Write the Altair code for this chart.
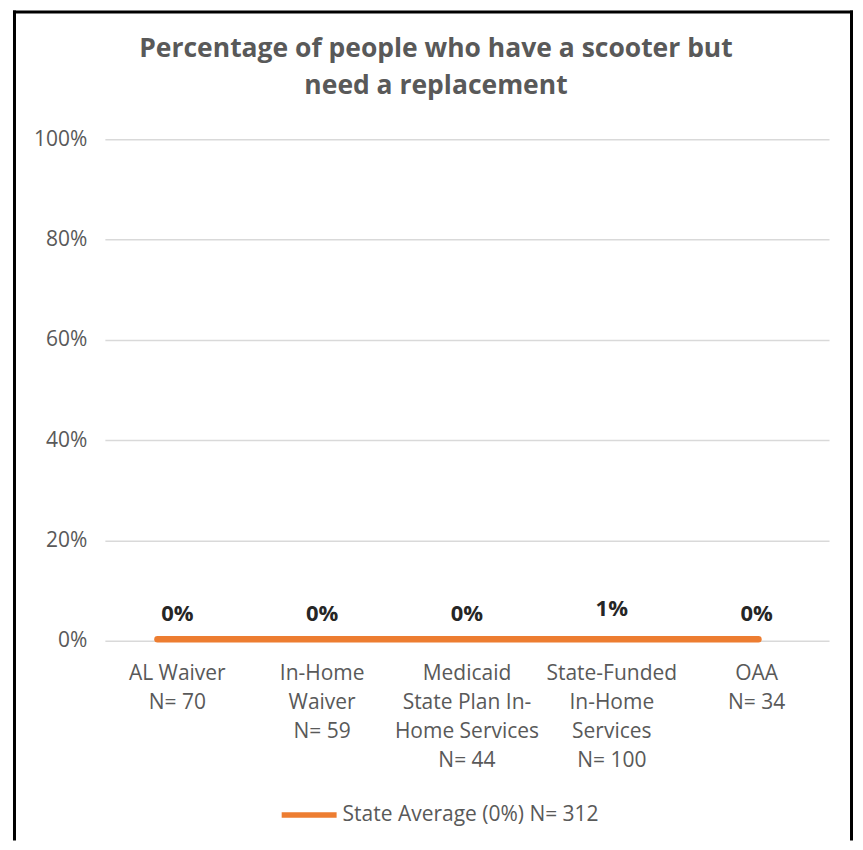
import altair as alt
import pandas as pd

# ---- data ----
categories = [
    "AL Waiver|N= 70",
    "In-Home|Waiver|N= 59",
    "Medicaid|State Plan In-|Home Services|N= 44",
    "State-Funded|In-Home|Services|N= 100",
    "OAA|N= 34",
]
values = [0.0, 0.0, 0.0, 0.01, 0.0]
state_avg = 0.003
series_label = "State Average (0%) N= 312"
y_ticks = [0, 0.2, 0.4, 0.6, 0.8, 1.0]
title_lines = ["Percentage of people who have a scooter but", "need a replacement"]

FONT = "Open Sans"
GREY = "#595959"
ORANGE = "#ED7D31"

W, H = 725, 502

df = pd.DataFrame({"category": categories, "value": values})
line_df = pd.DataFrame({
    "idx": list(range(len(categories))),
    "avg": [state_avg] * len(categories),
    "series": [series_label] * len(categories),
})
one = pd.DataFrame({"a": [1]})

x_enc = alt.X(
    "category:N",
    sort=categories,
    scale=alt.Scale(paddingInner=0.5, paddingOuter=0.25),
    axis=alt.Axis(
        title=None,
        labelAngle=0,
        labelExpr="split(datum.label, '|')",
        labelFont=FONT,
        labelFontSize=21,
        labelColor=GREY,
        labelLineHeight=29,
        labelPadding=22,
        labelLimit=300,
        domain=False,
        ticks=False,
        grid=False,
    ),
)
y_enc = alt.Y(
    "value:Q",
    scale=alt.Scale(domain=[0, 1], nice=False),
    axis=alt.Axis(
        title=None,
        values=y_ticks,
        format=".0%",
        labelFont=FONT,
        labelFontSize=21,
        labelColor=GREY,
        labelPadding=18,
        domain=False,
        ticks=False,
        grid=True,
        gridColor="#D9D9D9",
        gridWidth=1.5,
    ),
)

bars = alt.Chart(df).mark_bar(color="#4472C4", opacity=0).encode(x=x_enc, y=y_enc)
labels = alt.Chart(df).mark_text(
    dy=-27, baseline="middle", font=FONT, fontSize=22, fontWeight="bold", color="#262626"
).encode(
    x=alt.X("category:N", sort=categories, scale=alt.Scale(paddingInner=0.5, paddingOuter=0.25)),
    y=alt.Y("value:Q"),
    text=alt.Text("value:Q", format=".0%"),
)
cat_layer = alt.layer(bars, labels)

avg_line = alt.Chart(line_df).mark_line(strokeWidth=6.5, strokeCap="round").encode(
    x=alt.X("idx:Q", scale=alt.Scale(domain=[-0.35, 4.47], nice=False, zero=False), axis=None),
    y=alt.Y("avg:Q"),
    color=alt.Color(
        "series:N",
        scale=alt.Scale(domain=[series_label], range=[ORANGE]),
        legend=alt.Legend(
            title=None,
            orient="none",
            legendX=174,
            legendY=646,
            symbolType="stroke",
            symbolSize=3025,
            symbolStrokeWidth=5.5,
            labelFont=FONT,
            labelFontSize=21,
            labelColor=GREY,
            labelLimit=500,
            labelOffset=3,
            padding=0,
        ),
    ),
)

title = alt.Chart(one).mark_text(
    text=title_lines, font=FONT, fontSize=26.5, fontWeight="bold", color=GREY,
    lineHeight=37, align="center", baseline="middle",
).encode(x=alt.value(331.5), y=alt.value(-90))

# outer black frame of the picture
frame_left = alt.Chart(one).mark_rule(color="black", strokeWidth=3).encode(
    x=alt.value(-90.5), y=alt.value(-129), y2=alt.value(702))
frame_right = alt.Chart(one).mark_rule(color="black", strokeWidth=3).encode(
    x=alt.value(747.5), y=alt.value(-129), y2=alt.value(702))
frame_top = alt.Chart(one).mark_rule(color="black", strokeWidth=3).encode(
    x=alt.value(-92), x2=alt.value(749), y=alt.value(-127.5))

chart = alt.layer(
    cat_layer, avg_line, title, frame_left, frame_right, frame_top
).resolve_scale(x="independent").properties(
    width=W, height=H, background="white",
    padding={"left": 3, "top": 0, "right": 0, "bottom": 0},
).configure_view(stroke=None)

chart.save("out.html", embed_options={"renderer": "svg", "actions": False})
